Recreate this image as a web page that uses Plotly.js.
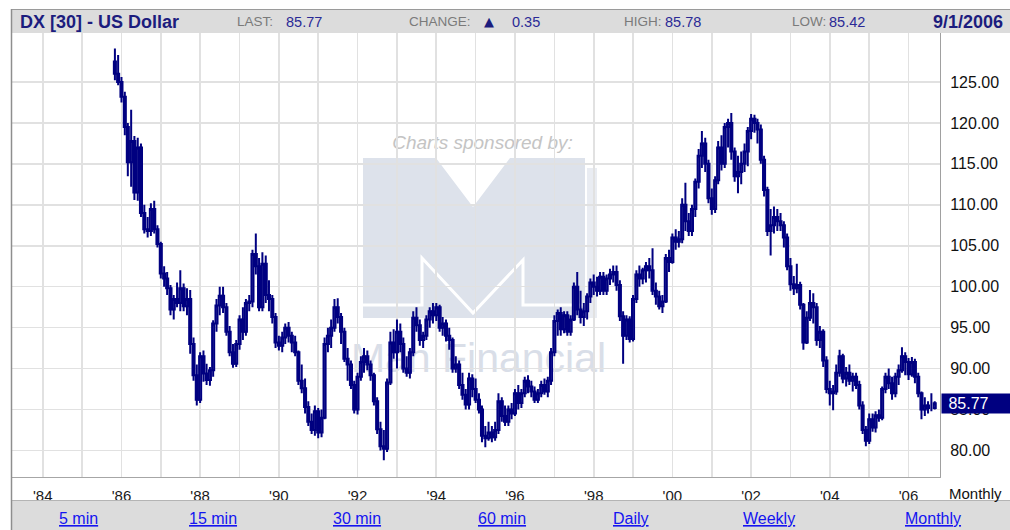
<!DOCTYPE html>
<html>
<head>
<meta charset="utf-8">
<script src="https://cdn.plot.ly/plotly-3.0.1.min.js"></script>
<style>
  html, body { margin: 0; padding: 0; background: #ffffff; }
  #chart { width: 1010px; height: 530px; }
</style>
</head>
<body>
<div id="chart"></div>
<script>
// ---------------- DATA (monthly OHLC, Nov 1985 .. Sep 2006) ----------------
const firstMonth = '1985-11';

const opens = [
  127.5, 126.0,
  125.0, 123.2, 119.5, 115.2, 117.8, 111.5, 117.0, 109.0, 107.0, 106.8, 109.5, 107.0,
  105.2, 101.6, 101.0, 99.8, 97.2, 98.5, 98.0, 99.8, 97.6, 98.5, 93.0, 89.2,
  86.2, 91.5, 89.4, 88.6, 89.8, 95.5, 97.7, 98.9, 97.5, 94.5, 92.0, 90.6,
  93.0, 96.0, 94.5, 98.0, 98.2, 104.0, 102.5, 97.5, 102.8, 99.0, 98.5, 96.3,
  93.2, 92.8, 93.8, 95.0, 94.0, 93.2, 92.0, 88.5, 87.6, 85.3, 83.5, 82.5,
  84.8, 82.2, 84.0, 93.0, 94.0, 95.0, 97.5, 96.3, 94.5, 91.2, 90.5, 88.0,
  85.0, 89.0, 90.8, 91.5, 90.5, 89.2, 86.0, 82.6, 80.5, 80.2, 88.3, 93.2,
  92.0, 94.5, 93.0, 90.0, 89.5, 92.0, 96.2, 95.3, 93.5, 94.0, 96.0, 97.0,
  96.5, 97.5, 95.0, 95.5, 94.0, 93.5, 90.0, 90.5, 88.0, 86.8, 85.6, 88.8,
  87.5, 86.2, 85.0, 81.8, 81.5, 82.2, 81.6, 82.5, 86.0, 84.2, 83.5, 85.0,
  84.5, 87.0, 85.8, 87.0, 88.5, 87.8, 87.2, 86.2, 87.0, 88.0, 87.2, 88.5,
  92.0, 95.8, 96.8, 94.8, 96.5, 94.5, 96.0, 100.0, 97.2, 96.3, 97.0, 98.8,
  100.5, 100.0, 99.5, 101.2, 99.5, 101.0, 101.5, 101.8, 100.2, 96.4, 94.0, 96.0,
  93.6, 98.5, 101.5, 101.0, 102.0, 102.5, 102.0, 99.5, 98.8, 97.6, 98.2, 103.5,
  103.0, 106.0, 105.5, 105.8, 110.0, 108.0, 106.8, 109.5, 112.8, 116.0, 117.5, 115.0,
  110.8, 109.5, 113.0, 117.0, 115.0, 119.5, 120.0, 116.5, 113.5, 114.0, 115.0, 116.5,
  119.0, 120.5, 120.0, 119.2, 115.5, 111.8, 106.8, 107.5, 108.5, 108.0, 107.5, 106.0,
  102.5, 100.3, 99.8, 100.2, 97.8, 93.2, 96.2, 98.0, 97.5, 93.5, 94.5, 91.0,
  87.5, 87.0, 87.2, 89.5, 91.5, 88.8, 89.5, 88.5, 89.0, 88.0, 85.5, 82.5,
  81.2, 83.8, 82.8, 84.3, 84.0, 87.5, 89.0, 88.2, 87.0, 89.0, 89.8, 91.5,
  90.8, 89.3, 90.8, 89.0, 87.0, 85.0, 85.5, 85.2, 85.2
];

const highs = [
  129.1, 128.3,
  125.6, 123.8, 120.0, 121.6, 118.4, 118.2, 117.5, 110.0, 108.5, 110.2, 110.5, 107.5,
  105.5, 102.5, 101.8, 100.2, 99.0, 100.5, 102.0, 100.4, 99.8, 99.6, 93.8, 90.5,
  92.0, 92.2, 90.6, 90.2, 95.9, 98.5, 100.0, 100.0, 98.0, 95.2, 93.0, 93.5,
  96.5, 97.5, 98.5, 99.0, 104.5, 106.5, 103.5, 104.2, 103.8, 100.8, 99.0, 96.8,
  94.0, 94.5, 95.5, 95.7, 94.5, 94.0, 92.2, 90.5, 88.8, 86.0, 84.5, 85.5,
  85.2, 85.0, 93.8, 95.0, 96.0, 98.5, 98.6, 96.8, 95.0, 92.5, 91.0, 88.5,
  89.5, 91.5, 92.5, 92.2, 91.0, 89.5, 86.5, 83.5, 82.5, 88.8, 94.5, 94.8,
  96.0, 95.5, 93.8, 91.5, 92.5, 97.0, 97.5, 96.0, 94.5, 96.5, 97.5, 98.0,
  98.0, 97.8, 96.3, 96.0, 95.0, 93.8, 91.5, 91.0, 89.5, 87.5, 89.5, 89.3,
  88.8, 87.0, 85.5, 83.0, 83.5, 83.0, 83.5, 87.0, 86.5, 85.5, 85.5, 85.8,
  87.5, 88.0, 87.5, 89.0, 89.2, 88.5, 87.8, 87.5, 88.5, 88.8, 89.0, 92.5,
  96.5, 97.2, 97.5, 97.0, 97.0, 96.5, 100.5, 101.8, 99.5, 98.0, 99.2, 101.0,
  101.5, 101.2, 101.8, 101.8, 101.5, 102.2, 102.6, 102.6, 100.8, 97.0, 96.5, 96.4,
  99.0, 102.0, 102.6, 102.3, 103.0, 103.5, 104.7, 100.5, 99.5, 99.0, 104.0, 104.5,
  106.5, 107.0, 106.8, 110.8, 112.7, 109.0, 110.0, 113.2, 116.8, 119.0, 118.2, 115.5,
  112.0, 113.5, 117.8, 118.5, 120.0, 120.5, 121.2, 117.0, 116.0, 116.5, 117.5, 119.5,
  121.1, 121.0, 120.5, 119.8, 116.0, 112.2, 109.5, 109.8, 109.5, 109.0, 108.0, 106.5,
  103.5, 101.3, 102.8, 100.6, 98.0, 97.0, 99.6, 99.2, 98.0, 95.2, 94.8, 91.5,
  88.5, 88.0, 90.5, 92.3, 91.8, 90.2, 90.5, 89.5, 89.5, 88.5, 86.0, 83.0,
  84.5, 84.5, 84.8, 85.0, 87.8, 89.5, 90.0, 89.0, 89.5, 90.5, 92.6, 92.0,
  91.3, 91.4, 91.2, 89.5, 87.2, 86.5, 86.0, 87.0, 86.0
];

const lows = [
  125.2, 124.6,
  122.5, 118.5, 113.5, 112.2, 110.6, 110.5, 108.5, 106.5, 106.0, 106.2, 106.5, 104.8,
  101.0, 100.0, 99.0, 96.5, 96.0, 97.5, 97.0, 97.0, 96.5, 91.8, 88.5, 85.5,
  85.8, 88.4, 88.0, 87.9, 89.0, 94.5, 96.5, 96.8, 94.0, 91.5, 90.1, 90.2,
  92.3, 93.5, 94.0, 97.0, 97.5, 101.5, 97.0, 97.0, 98.0, 97.0, 95.5, 92.5,
  92.2, 92.0, 93.0, 93.2, 92.0, 91.5, 88.0, 87.0, 84.5, 83.0, 82.0, 81.8,
  81.5, 81.6, 83.8, 92.0, 92.5, 94.5, 95.5, 93.0, 90.8, 88.5, 87.5, 84.5,
  84.4, 88.5, 89.5, 89.8, 88.5, 85.5, 82.0, 80.0, 78.8, 79.8, 88.0, 91.2,
  90.0, 92.0, 89.5, 89.0, 88.8, 91.5, 94.5, 92.8, 92.5, 93.5, 95.0, 95.5,
  95.8, 94.5, 94.0, 93.3, 92.3, 89.5, 89.5, 87.5, 86.2, 85.0, 85.0, 86.5,
  85.8, 84.5, 81.0, 80.4, 81.2, 81.0, 81.2, 82.0, 83.5, 83.0, 83.0, 83.8,
  84.2, 85.0, 85.2, 86.5, 87.0, 86.5, 85.8, 85.8, 86.5, 86.8, 86.5, 88.0,
  91.5, 94.0, 94.0, 94.3, 94.0, 94.0, 95.8, 96.5, 95.5, 95.2, 96.0, 98.0,
  99.0, 98.8, 99.0, 99.0, 99.0, 100.2, 100.5, 99.5, 95.8, 90.6, 93.5, 93.2,
  93.3, 98.0, 100.0, 100.3, 100.5, 101.0, 99.0, 97.8, 97.2, 96.8, 98.0, 101.8,
  102.8, 104.5, 104.8, 105.3, 106.8, 106.2, 106.2, 108.5, 112.0, 114.5, 114.0, 110.2,
  108.8, 109.0, 112.5, 114.2, 114.5, 117.0, 115.5, 112.8, 111.4, 112.5, 114.0, 114.7,
  118.0, 118.8, 117.5, 115.0, 111.0, 106.2, 103.8, 106.5, 106.8, 106.8, 104.8, 102.0,
  99.5, 99.0, 99.2, 97.2, 92.3, 93.0, 95.8, 95.5, 92.8, 92.5, 90.2, 87.0,
  85.5, 84.9, 86.8, 89.0, 88.2, 87.8, 88.0, 87.2, 87.5, 85.0, 82.0, 80.5,
  80.8, 82.3, 82.2, 83.5, 83.7, 87.0, 87.5, 86.2, 86.5, 88.0, 89.5, 89.2,
  88.6, 89.0, 88.2, 86.5, 83.8, 84.2, 84.5, 84.8, 85.0
];

const closes = [
  126.0, 125.0,
  123.2, 119.5, 115.2, 117.8, 111.5, 117.0, 109.0, 107.0, 106.8, 109.5, 107.0, 105.2,
  101.6, 101.0, 99.8, 97.2, 98.5, 98.0, 99.8, 97.6, 98.5, 93.0, 89.2, 86.2,
  91.5, 89.4, 88.6, 89.8, 95.5, 97.7, 98.9, 97.5, 94.5, 92.0, 90.6, 93.0,
  96.0, 94.5, 98.0, 98.2, 104.0, 102.5, 97.5, 102.8, 99.0, 98.5, 96.3, 93.2,
  92.8, 93.8, 95.0, 94.0, 93.2, 92.0, 88.5, 87.6, 85.3, 83.5, 82.5, 84.8,
  82.2, 84.0, 93.0, 94.0, 95.0, 97.5, 96.3, 94.5, 91.2, 90.5, 88.0, 85.0,
  89.0, 90.8, 91.5, 90.5, 89.2, 86.0, 82.6, 80.5, 80.2, 88.3, 93.2, 92.0,
  94.5, 93.0, 90.0, 89.5, 92.0, 96.2, 95.3, 93.5, 94.0, 96.0, 97.0, 96.5,
  97.5, 95.0, 95.5, 94.0, 93.5, 90.0, 90.5, 88.0, 86.8, 85.6, 88.8, 87.5,
  86.2, 85.0, 81.8, 81.5, 82.2, 81.6, 82.5, 86.0, 84.2, 83.5, 85.0, 84.5,
  87.0, 85.8, 87.0, 88.5, 87.8, 87.2, 86.2, 87.0, 88.0, 87.2, 88.5, 92.0,
  95.8, 96.8, 94.8, 96.5, 94.5, 96.0, 100.0, 97.2, 96.3, 97.0, 98.8, 100.5,
  100.0, 99.5, 101.2, 99.5, 101.0, 101.5, 101.8, 100.2, 96.4, 94.0, 96.0, 93.6,
  98.5, 101.5, 101.0, 102.0, 102.5, 102.0, 99.5, 98.8, 97.6, 98.2, 103.5, 103.0,
  106.0, 105.5, 105.8, 110.0, 108.0, 106.8, 109.5, 112.8, 116.0, 117.5, 115.0, 110.8,
  109.5, 113.0, 117.0, 115.0, 119.5, 120.0, 116.5, 113.5, 114.0, 115.0, 116.5, 119.0,
  120.5, 120.0, 119.2, 115.5, 111.8, 106.8, 107.5, 108.5, 108.0, 107.5, 106.0, 102.5,
  100.3, 99.8, 100.2, 97.8, 93.2, 96.2, 98.0, 97.5, 93.5, 94.5, 91.0, 87.5,
  87.0, 87.2, 89.5, 91.5, 88.8, 89.5, 88.5, 89.0, 88.0, 85.5, 82.5, 81.2,
  83.8, 82.8, 84.3, 84.0, 87.5, 89.0, 88.2, 87.0, 89.0, 89.8, 91.5, 90.8,
  89.3, 90.8, 89.0, 87.0, 85.0, 85.5, 85.2, 85.2, 85.77
];

const yearTicks = ['1984-01-01','1985-01-01','1986-01-01','1987-01-01','1988-01-01','1989-01-01',
  '1990-01-01','1991-01-01','1992-01-01','1993-01-01','1994-01-01','1995-01-01','1996-01-01',
  '1997-01-01','1998-01-01','1999-01-01','2000-01-01','2001-01-01','2002-01-01','2003-01-01',
  '2004-01-01','2005-01-01','2006-01-01'];
const yearLabels = ["'84","","'86","","'88","","'90","","'92","","'94","","'96","","'98","",
  "'00","","'02","","'04","","'06"];
const priceTicks = [80, 85, 90, 95, 100, 105, 110, 115, 120, 125];
const priceLabels = ['80.00','85.00','90.00','95.00','100.00','105.00','110.00','115.00','120.00','125.00'];

const headerTitle = 'DX [30] - US Dollar';
const lastValue = '85.77', changeValue = '0.35', highValue = '85.78', lowValue = '85.42';
const dateValue = '9/1/2006';
const linkLabels = ['5 min','15 min','30 min','60 min','Daily','Weekly','Monthly'];

// ---------------- build month dates ----------------
const dates = [];
{
  let y = parseInt(firstMonth.slice(0,4),10), m = parseInt(firstMonth.slice(5,7),10);
  for (let i = 0; i < closes.length; i++) {
    dates.push(y + '-' + String(m).padStart(2,'0') + '-01');
    m++; if (m > 12) { m = 1; y++; }
  }
}

// ---------------- pixel helpers (layout only) ----------------
const L = 12, R = 940, T = 33, B = 477;
const px = x => (x - L) / (R - L);
const py = y => (B - y) / (B - T);
const F = 'Liberation Sans, Arial, sans-serif';
const NAVY = '#000080';

function ann(text, x, y, o) {
  const a = { text: text, xref: 'paper', yref: 'paper', x: px(x), y: py(y),
    xanchor: 'left', yanchor: 'middle', showarrow: false,
    font: { family: F, size: 14, color: '#777777' } };
  return Object.assign(a, o || {});
}

const LBL = { family: F, size: 13.5, color: '#7a7a7a' };
const VAL = { family: F, size: 14.5, color: '#2a2a96' };
const annotations = [
  ann('<b>' + headerTitle + '</b>', 18, 22, { font: { family: F, size: 18, color: '#1c1c7e' } }),
  ann('LAST:', 235, 22, { font: LBL }),
  ann(lastValue, 284, 22, { font: VAL }),
  ann('CHANGE:', 407, 22, { font: LBL }),
  ann('\u25B2', 482, 21, { font: { family: 'DejaVu Sans, sans-serif', size: 13, color: '#1c1c7e' } }),
  ann(changeValue, 510, 22, { font: VAL }),
  ann('HIGH:', 622, 22, { font: LBL }),
  ann(highValue, 663, 22, { font: VAL }),
  ann('LOW:', 790, 22, { font: LBL }),
  ann(lowValue, 827, 22, { font: VAL }),
  ann('<b>' + dateValue + '</b>', 1005, 22, { xanchor: 'right', font: { family: F, size: 18, color: '#1c1c7e' } }),
  ann('Monthly', 947, 493, { font: { family: F, size: 15, color: '#111111' } }),
  // last price tag
  { text: '\u00a0' + lastValue, xref: 'paper', yref: 'y', x: px(941), y: 85.77,
    xanchor: 'left', yanchor: 'middle', showarrow: false, align: 'left',
    width: 64, height: 15, borderpad: 2, bgcolor: NAVY,
    font: { family: F, size: 16, color: '#ffffff' } }
];
const linkX = [78, 213, 357, 502, 631, 769, 933];
linkLabels.forEach((t, i) => {
  annotations.push(ann('<u>' + t + '</u>', linkX[i], 518, { xanchor: 'center',
    font: { family: F, size: 16, color: '#1414f0' } }));
});

const LOGO = '#dde2eb';
const shapes = [
  // header bar
  { type: 'rect', xref: 'paper', yref: 'paper', x0: px(12), x1: px(1012), y0: py(33), y1: py(10),
    fillcolor: '#dcdcdc', line: { width: 0 }, layer: 'below' },
  { type: 'line', xref: 'paper', yref: 'paper', x0: px(12), x1: px(1012), y0: py(9.5), y1: py(9.5),
    line: { color: '#9a9a9a', width: 1 } },
  // bottom link bar
  { type: 'rect', xref: 'paper', yref: 'paper', x0: px(12), x1: px(1012), y0: py(501), y1: py(532),
    fillcolor: '#dcdcdc', line: { width: 0 }, layer: 'below' },
  { type: 'line', xref: 'paper', yref: 'paper', x0: px(12), x1: px(1012), y0: py(500.5), y1: py(500.5),
    line: { color: '#b4b4b4', width: 1 } },
  // left border
  { type: 'line', xref: 'paper', yref: 'paper', x0: px(11.5), x1: px(11.5), y0: py(9), y1: py(532),
    line: { color: '#8e8e8e', width: 1.5 } },
  // watermark logo (M)
  { type: 'path', xref: 'paper', yref: 'paper', layer: 'below', fillcolor: LOGO, line: { width: 0 },
    path: 'M' + px(363) + ',' + py(158) + ' L' + px(436) + ',' + py(158) + ' L' + px(473) + ',' + py(207) +
          ' L' + px(510) + ',' + py(158) + ' L' + px(585) + ',' + py(158) + ' L' + px(585) + ',' + py(318) +
          ' L' + px(363) + ',' + py(318) + ' Z' },
  { type: 'rect', xref: 'paper', yref: 'paper', layer: 'below', fillcolor: '#e9ecf2', line: { width: 0 },
    x0: px(587), x1: px(597), y0: py(318), y1: py(168) },
  { type: 'path', xref: 'paper', yref: 'paper', layer: 'below', line: { color: '#ffffff', width: 3 },
    path: 'M' + px(363) + ',' + py(305) + ' L' + px(422) + ',' + py(305) + ' L' + px(422) + ',' + py(258) +
          ' L' + px(473) + ',' + py(313) + ' L' + px(523) + ',' + py(260) + ' L' + px(523) + ',' + py(305) +
          ' L' + px(585) + ',' + py(305) },
  // watermark texts
  { type: 'rect', xref: 'paper', yref: 'paper', layer: 'below', line: { width: 0 }, fillcolor: 'rgba(0,0,0,0)',
    x0: px(370), x1: px(595), y0: py(150), y1: py(130),
    label: { text: '<i>Charts sponsored by:</i>', textposition: 'middle center',
      font: { family: F, size: 19, color: '#c4c4c4' } } },
  { type: 'rect', xref: 'paper', yref: 'paper', layer: 'below', line: { width: 0 }, fillcolor: 'rgba(0,0,0,0)',
    x0: px(345), x1: px(612), y0: py(380), y1: py(328),
    label: { text: 'Man Financial', textposition: 'middle center',
      font: { family: F, size: 41, color: '#d9dee8' } } }
];

const trace = {
  type: 'candlestick', x: dates, open: opens, high: highs, low: lows, close: closes,
  increasing: { line: { color: NAVY, width: 2 }, fillcolor: '#ffffff' },
  decreasing: { line: { color: NAVY, width: 2 }, fillcolor: NAVY },
  whiskerwidth: 0, hoverinfo: 'skip', showlegend: false
};

const layout = {
  width: 1010, height: 530,
  margin: { l: L, r: 1010 - R, t: T, b: 530 - B, pad: 0 },
  paper_bgcolor: '#ffffff', plot_bgcolor: '#ffffff',
  showlegend: false, boxgap: 0.02,
  font: { family: F, size: 15, color: '#111111' },
  xaxis: {
    type: 'date', range: ['1983-03-22', '2006-10-20'],
    tickmode: 'array', tickvals: yearTicks, ticktext: yearLabels,
    showgrid: true, gridcolor: '#e1e1e1', gridwidth: 1.6,
    ticks: 'outside', ticklen: 5, tickcolor: 'rgba(0,0,0,0)',
    tickfont: { family: F, size: 15, color: '#1a1a1a' },
    showline: true, linecolor: '#a6a6a6', linewidth: 1,
    zeroline: false, rangeslider: { visible: false }, fixedrange: true
  },
  yaxis: {
    side: 'right', range: [76.76, 130.98],
    tickmode: 'array', tickvals: priceTicks, ticktext: priceLabels,
    showgrid: true, gridcolor: '#e1e1e1', gridwidth: 1.6,
    ticks: 'outside', ticklen: 6, tickcolor: 'rgba(0,0,0,0)',
    tickfont: { family: F, size: 16, color: '#111111' },
    showline: true, linecolor: '#a0a0a0', linewidth: 1,
    zeroline: false, fixedrange: true
  },
  shapes: shapes,
  annotations: annotations
};

Plotly.newPlot('chart', [trace], layout, { staticPlot: true, displayModeBar: false });
</script>
</body>
</html>
